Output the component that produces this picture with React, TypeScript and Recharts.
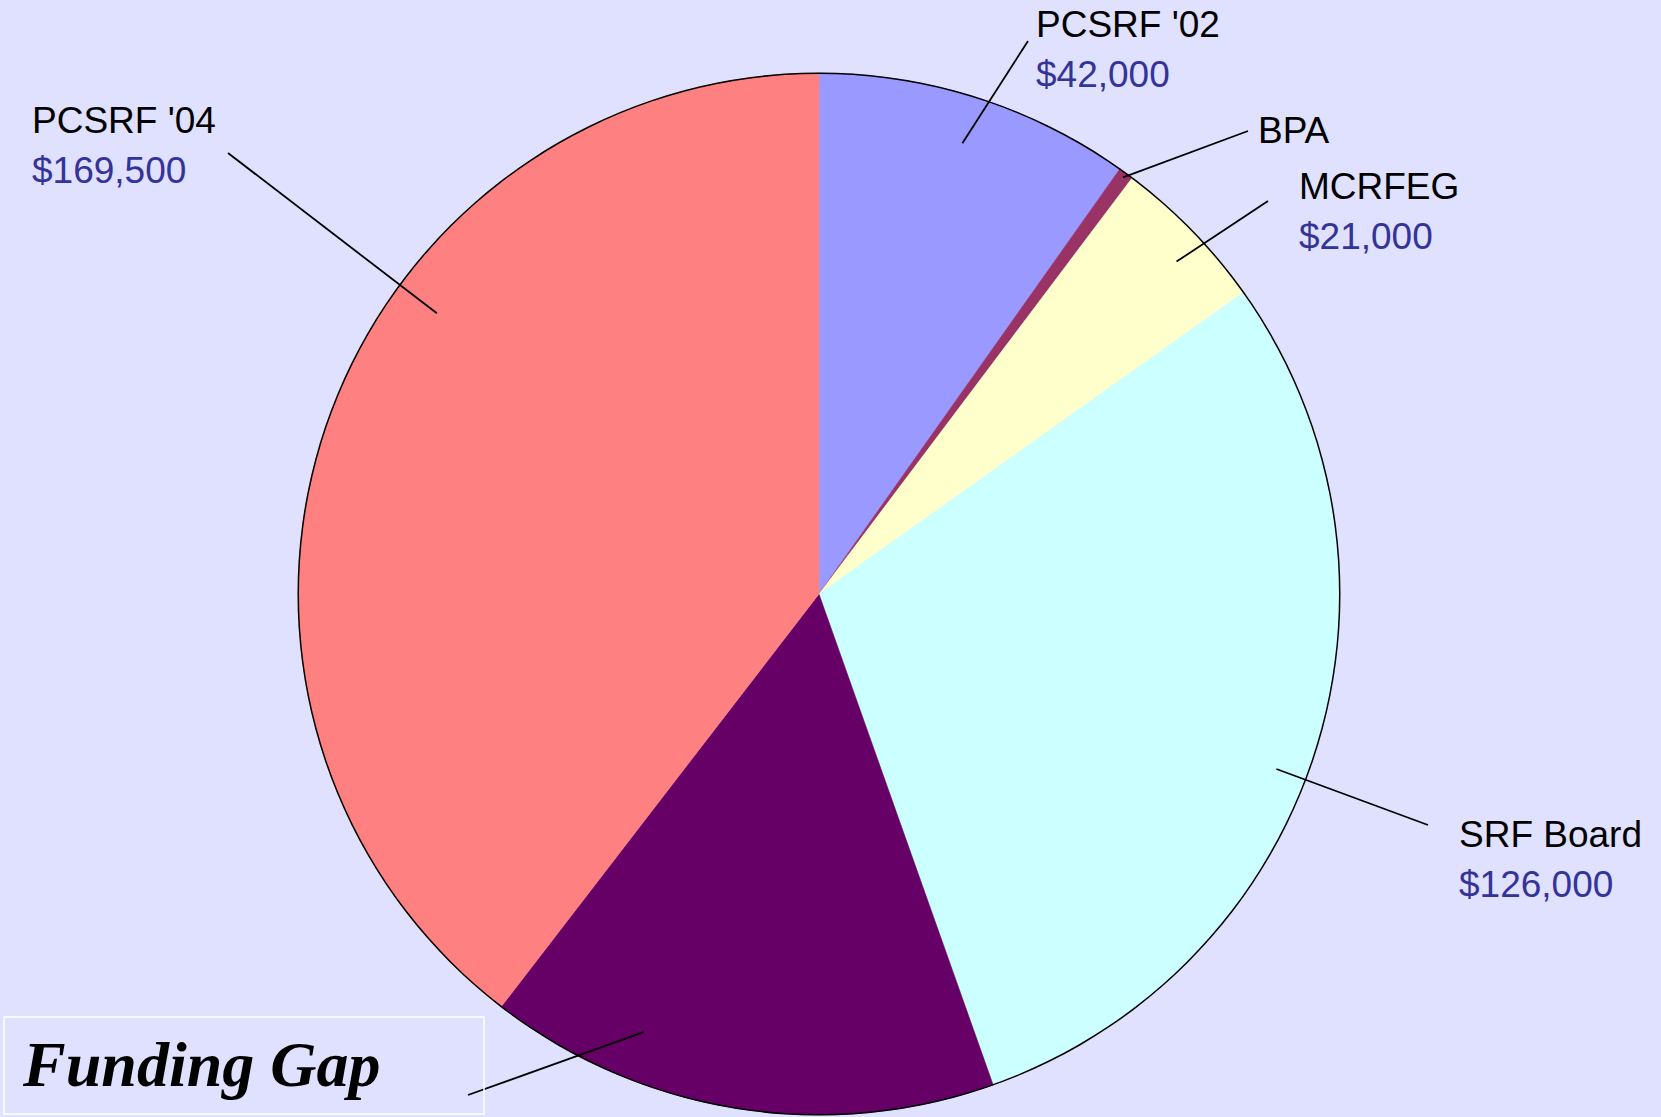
import React from 'react';
import { PieChart, Pie, Cell } from 'recharts';

// slice data, clockwise from 12 o'clock
const sources = ["PCSRF '02", 'BPA', 'MCRFEG', 'SRF Board', 'Funding Gap', "PCSRF '04"];
const amounts = [42000, 2000, 21000, 126000, 68000, 169500];
const sliceColors = ['#9999FF', '#993366', '#FFFFCC', '#CCFFFF', '#660066', '#FF8080'];
const showAmount = [true, false, true, true, false, true];

// hand placed callouts (offsets from pie centre, px), as in the original slide
const calloutEnd: Array<[number, number]> = [[209, -553], [429, -463], [449, -393], [609, 231], [-351, 501], [-591, -441]];
const calloutText: Array<[number, number]> = [[217, -557], [439, -451], [480, -395], [640, 253], [-796, 492], [-787, -461]];
const calloutTurn = [0, 0, 1.3, 3.4, 12.8, 17.5];
const calloutDepth = [0.908, 0.99, 0.937, 0.94, 0.906, 0.91];

const W = 1661;
const H = 1117;
const CX = 819;
const CY = 594;
const R = 521;
const BG = '#E0E0FF';
const FONT = '"Liberation Sans", Arial, sans-serif';

const data = sources.map((name, i) => ({ name, value: amounts[i] }));
const total = amounts.reduce((a, b) => a + b, 0);
const outline = [{ name: 'outline', value: total }];

const RAD = Math.PI / 180;

const renderLabel = (props: any) => {
  const { cx, cy, midAngle, outerRadius, index, value } = props;
  const ang = (midAngle - calloutTurn[index]) * RAD;
  const r = outerRadius * calloutDepth[index];
  const x1 = cx + r * Math.cos(-ang);
  const y1 = cy + r * Math.sin(-ang);
  const [ex, ey] = calloutEnd[index];
  const [tx, ty] = calloutText[index];
  const name = sources[index];

  if (name === 'Funding Gap') {
    return (
      <g key={`lbl-${index}`}>
        <line x1={x1} y1={y1} x2={cx + ex} y2={cy + ey} stroke="#000" strokeWidth={1.8} />
        <rect x={cx - 815} y={cy + 423} width={480} height={97} fill="none" stroke="#FFFFFF" strokeWidth={1.5} />
        <text
          x={cx + tx}
          y={cy + ty}
          fill="#000"
          fontFamily='"Liberation Serif", "Times New Roman", serif'
          fontStyle="italic"
          fontWeight="bold"
          fontSize={64}
        >
          {name}
        </text>
      </g>
    );
  }

  return (
    <g key={`lbl-${index}`}>
      <line x1={x1} y1={y1} x2={cx + ex} y2={cy + ey} stroke="#000" strokeWidth={1.8} />
      <text x={cx + tx} y={cy + ty} fill="#000" fontFamily={FONT} fontSize={37}>
        {name}
      </text>
      {showAmount[index] && (
        <text x={cx + tx} y={cy + ty + 50} fill="#333399" fontFamily={FONT} fontSize={37}>
          {`$${value.toLocaleString('en-US')}`}
        </text>
      )}
    </g>
  );
};

const App: React.FC = () => {
  return (
    <div style={{ position: 'fixed', left: 0, top: 0, width: W, height: H, background: BG }}>
      <PieChart width={W} height={H} margin={{ top: 0, right: 0, bottom: 0, left: 0 }}>
        <Pie
          data={data}
          dataKey="value"
          nameKey="name"
          cx={CX}
          cy={CY}
          outerRadius={R}
          startAngle={90}
          endAngle={-270}
          label={renderLabel}
          labelLine={false}
          isAnimationActive={false}
        >
          {data.map((d, i) => (
            <Cell key={d.name} fill={sliceColors[i]} stroke={sliceColors[i]} strokeWidth={0.5} />
          ))}
        </Pie>
        <Pie
          data={outline}
          dataKey="value"
          cx={CX}
          cy={CY}
          innerRadius={R - 1}
          outerRadius={R + 0.5}
          startAngle={90}
          endAngle={-270}
          fill="#000"
          stroke="none"
          isAnimationActive={false}
        />
      </PieChart>
    </div>
  );
};

export default App;
